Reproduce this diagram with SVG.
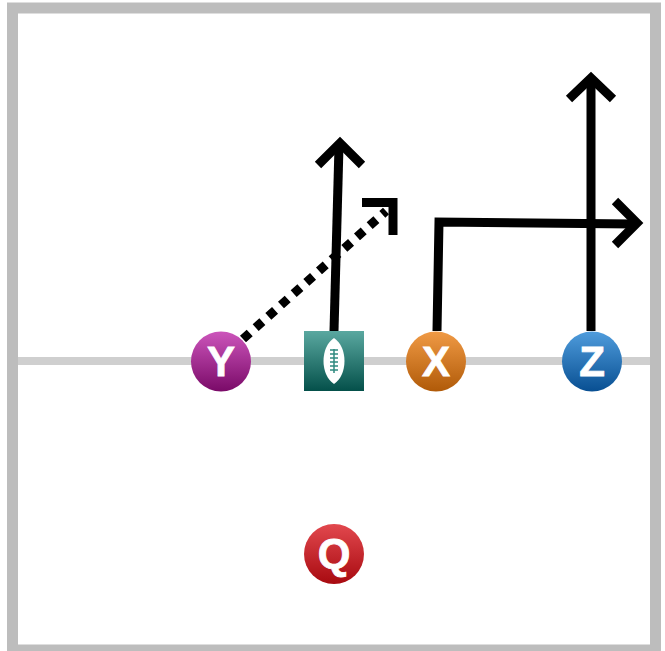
<svg xmlns="http://www.w3.org/2000/svg" width="665" height="651" viewBox="0 0 665 651">
<style>
.t{font-family:"Liberation Sans",Arial,sans-serif;font-weight:bold;font-size:42px;fill:#fff;stroke:#fff;stroke-width:0.800;text-anchor:middle}
.r{fill:none;stroke:#000;stroke-width:9}
</style>
<defs>
<linearGradient id="gy" x1="0" y1="0" x2="0" y2="1"><stop offset="0" stop-color="#cc55bb"/><stop offset="1" stop-color="#7a0a68"/></linearGradient>
<linearGradient id="gx" x1="0" y1="0" x2="0" y2="1"><stop offset="0" stop-color="#f09a45"/><stop offset="1" stop-color="#b05a08"/></linearGradient>
<linearGradient id="gz" x1="0" y1="0" x2="0" y2="1"><stop offset="0" stop-color="#4f9cdc"/><stop offset="1" stop-color="#084f92"/></linearGradient>
<linearGradient id="gq" x1="0" y1="0" x2="0" y2="1"><stop offset="0" stop-color="#e2484e"/><stop offset="1" stop-color="#a80a10"/></linearGradient>
<linearGradient id="gb" x1="0" y1="0" x2="0" y2="1"><stop offset="0" stop-color="#5aa8a0"/><stop offset="1" stop-color="#04504a"/></linearGradient>
</defs>
<rect id="field" x="12.500" y="8" width="643" height="642" fill="#fff" stroke="#bdbdbd" stroke-width="11"/>
<rect id="line" x="18" y="357" width="632" height="8" fill="#cfcfcf"/>
<g id="connectors">
<path class="r" d="M334 331L339 146"/>
<path class="r" d="M318 165L340 143L362 165"/>
<path class="r" d="M243 339L386 211" stroke-dasharray="9 8"/>
<path class="r" d="M362 202.500H393V235"/>
<path class="r" d="M437 331L439 222L634 224"/>
<path class="r" d="M615 201L637 223L615 245"/>
<path class="r" d="M591 331V80"/>
<path class="r" d="M569 99L591 78L613 99"/>
</g>
<g id="Y"><circle cx="221" cy="361.500" r="30" fill="url(#gy)"/><text class="t" x="221" y="376">Y</text></g>
<g id="ball"><rect x="304" y="331" width="60" height="60" fill="url(#gb)"/>
<path d="M334 338C348 347 348 375 334 384C320 375 320 347 334 338Z" fill="#fff"/>
<path d="M334 349V373M330 350H338M330 354H338M330 358H338M330 362H338M330 366H338M330 370H338" fill="none" stroke="#2f8a80" stroke-width="1.500"/></g>
<g id="X"><circle cx="436" cy="361.500" r="30" fill="url(#gx)"/><text class="t" x="436" y="376">X</text></g>
<g id="Z"><circle cx="592" cy="361.500" r="30" fill="url(#gz)"/><text class="t" x="592" y="376">Z</text></g>
<g id="Q"><circle cx="334" cy="554" r="30" fill="url(#gq)"/><text class="t" x="334" y="568">Q</text></g>
</svg>
